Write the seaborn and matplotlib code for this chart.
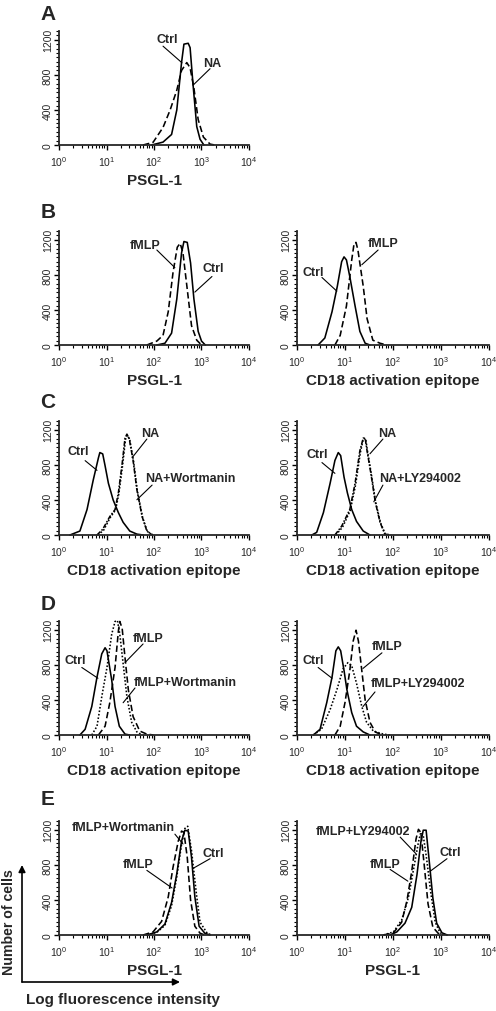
import numpy as np
import matplotlib
matplotlib.use("Agg")
import matplotlib.pyplot as plt
import seaborn as sns
from matplotlib.ticker import LogLocator, NullFormatter, MultipleLocator, FixedLocator

# ---------------- data (log10 fluorescence, number of cells) ----------------
# Panel A
A_ctrl_lx = [1.95, 2.19, 2.37, 2.48, 2.58, 2.63, 2.72, 2.76, 2.82, 2.90, 2.97, 3.05]
A_ctrl_n = [0, 33, 120, 400, 940, 1150, 1160, 1110, 700, 210, 65, 0]
A_na_lx = [1.77, 1.98, 2.19, 2.34, 2.48, 2.58, 2.69, 2.76, 2.84, 2.93, 3.04, 3.18, 3.28]
A_na_n = [0, 30, 200, 400, 625, 850, 940, 880, 650, 290, 90, 10, 0]

# Panel B left (PSGL-1)
BL_fmlp_lx = [1.85, 2.06, 2.19, 2.30, 2.40, 2.49, 2.55, 2.61, 2.70, 2.79, 2.90, 3.00]
BL_fmlp_n = [0, 45, 110, 380, 825, 1115, 1160, 1050, 635, 220, 55, 0]
BL_ctrl_lx = [2.06, 2.23, 2.37, 2.48, 2.58, 2.63, 2.70, 2.77, 2.84, 2.93, 3.00, 3.08]
BL_ctrl_n = [0, 20, 135, 525, 1050, 1180, 1170, 935, 525, 155, 45, 0]

# Panel B right (CD18)
BR_ctrl_lx = [0.44, 0.58, 0.73, 0.84, 0.93, 0.98, 1.03, 1.10, 1.21, 1.31, 1.42, 1.52]
BR_ctrl_n = [0, 80, 380, 670, 950, 1005, 970, 780, 445, 155, 20, 0]
BR_fmlp_lx = [0.79, 0.90, 1.03, 1.14, 1.19, 1.23, 1.27, 1.38, 1.46, 1.58, 1.73, 1.87]
BR_fmlp_n = [0, 110, 445, 970, 1160, 1170, 1080, 670, 300, 55, 20, 0]

# Panel C left
CL_ctrl_lx = [0.23, 0.44, 0.59, 0.72, 0.83, 0.86, 0.92, 0.97, 1.04, 1.14, 1.25, 1.35, 1.49, 1.64, 1.77]
CL_ctrl_n = [0, 45, 290, 625, 880, 940, 925, 790, 590, 400, 255, 145, 45, 10, 0]
CL_na_lx = [0.80, 0.92, 1.07, 1.18, 1.25, 1.33, 1.39, 1.43, 1.48, 1.56, 1.64, 1.75, 1.85, 1.96]
CL_na_n = [0, 65, 210, 290, 480, 815, 1105, 1150, 1095, 850, 515, 210, 45, 0]
CL_naw_lx = [0.82, 0.94, 1.08, 1.19, 1.26, 1.34, 1.40, 1.44, 1.49, 1.57, 1.65, 1.76, 1.86, 1.98]
CL_naw_n = [0, 55, 200, 285, 470, 800, 1090, 1140, 1085, 840, 500, 200, 40, 0]

# Panel C right
CR_ctrl_lx = [0.31, 0.41, 0.55, 0.69, 0.79, 0.86, 0.91, 0.98, 1.05, 1.14, 1.24, 1.38, 1.52]
CR_ctrl_n = [0, 30, 255, 590, 850, 940, 905, 660, 480, 290, 155, 45, 0]
CR_na_lx = [0.79, 0.93, 1.10, 1.21, 1.31, 1.38, 1.42, 1.46, 1.54, 1.63, 1.73, 1.83, 1.94]
CR_na_n = [0, 100, 290, 590, 960, 1105, 1105, 960, 700, 380, 145, 10, 0]
CR_naly_lx = [0.81, 0.95, 1.11, 1.22, 1.32, 1.38, 1.43, 1.47, 1.55, 1.64, 1.74, 1.84, 1.96]
CR_naly_n = [0, 90, 280, 570, 940, 1095, 1100, 950, 690, 370, 140, 10, 0]

# Panel D left
DL_ctrl_lx = [0.44, 0.55, 0.69, 0.80, 0.90, 0.97, 1.01, 1.11, 1.18, 1.27, 1.39, 1.49]
DL_ctrl_n = [0, 65, 325, 660, 925, 995, 960, 625, 325, 100, 10, 0]
DL_fw_lx = [0.69, 0.80, 0.90, 1.01, 1.11, 1.18, 1.23, 1.28, 1.35, 1.43, 1.53, 1.64, 1.75]
DL_fw_n = [0, 100, 435, 770, 1150, 1295, 1305, 1150, 815, 435, 145, 35, 0]
DL_fmlp_lx = [0.83, 0.97, 1.07, 1.18, 1.25, 1.28, 1.33, 1.39, 1.46, 1.56, 1.70, 1.85, 1.99]
DL_fmlp_n = [0, 100, 370, 770, 1185, 1295, 1215, 880, 515, 210, 45, 10, 0]

# Panel D right
DR_ctrl_lx = [0.34, 0.48, 0.62, 0.73, 0.81, 0.86, 0.91, 0.98, 1.04, 1.14, 1.24, 1.38, 1.52]
DR_ctrl_n = [0, 65, 370, 660, 960, 1005, 960, 735, 515, 255, 100, 35, 0]
DR_fly_lx = [0.34, 0.51, 0.69, 0.83, 0.96, 1.06, 1.14, 1.24, 1.35, 1.45, 1.59, 1.80, 1.94]
DR_fly_n = [0, 65, 290, 515, 755, 825, 790, 590, 325, 145, 45, 10, 0]
DR_fmlp_lx = [0.79, 0.90, 1.00, 1.10, 1.17, 1.23, 1.28, 1.35, 1.42, 1.52, 1.63, 1.77]
DR_fmlp_n = [0, 100, 370, 735, 1070, 1195, 1070, 735, 400, 145, 35, 0]

# Panel E left
EL_ctrl_lx = [1.85, 2.06, 2.23, 2.37, 2.48, 2.58, 2.65, 2.72, 2.79, 2.86, 2.95, 3.07, 3.18]
EL_ctrl_n = [0, 35, 125, 370, 700, 1070, 1195, 1185, 885, 435, 100, 20, 0]
EL_fw_lx = [1.85, 2.06, 2.23, 2.37, 2.48, 2.58, 2.65, 2.71, 2.79, 2.90, 2.97, 3.12, 3.21]
EL_fw_n = [0, 30, 110, 335, 665, 1035, 1215, 1240, 960, 435, 145, 20, 0]
EL_fmlp_lx = [1.77, 1.98, 2.16, 2.30, 2.40, 2.51, 2.58, 2.63, 2.70, 2.77, 2.86, 2.97, 3.07]
EL_fmlp_n = [0, 35, 155, 435, 770, 1070, 1185, 1170, 885, 400, 100, 20, 0]

# Panel E right
ER_ctrl_lx = [1.94, 2.08, 2.25, 2.39, 2.50, 2.58, 2.63, 2.69, 2.75, 2.83, 2.91, 3.02, 3.13]
ER_ctrl_n = [0, 35, 135, 315, 690, 1060, 1195, 1195, 870, 425, 135, 25, 0]
ER_fly_lx = [1.80, 2.01, 2.18, 2.32, 2.42, 2.53, 2.58, 2.63, 2.70, 2.79, 2.88, 2.98, 3.13]
ER_fly_n = [0, 35, 170, 425, 725, 1060, 1170, 1135, 870, 470, 145, 25, 0]
ER_fmlp_lx = [1.80, 2.01, 2.18, 2.29, 2.39, 2.48, 2.53, 2.58, 2.65, 2.73, 2.83, 2.94, 3.04]
ER_fmlp_n = [0, 25, 145, 390, 725, 1095, 1205, 1170, 800, 355, 90, 20, 0]

Y_TICKS = [0, 400, 800, 1200]
X_DECADES = [0, 1, 2, 3, 4]
PANEL_LETTERS = ["A", "B", "C", "D", "E"]
XLAB_PSGL = "PSGL-1"
XLAB_CD18 = "CD18 activation epitope"

# ---------------- styling ----------------
sns.set_style("ticks")
plt.rcParams["font.family"] = ["Liberation Sans", "DejaVu Sans"]
plt.rcParams["mathtext.default"] = "regular"

SOLID = "-"
DASH = (0, (4.0, 2.0))
DOT = (0, (1.0, 1.2))
DASHDOT = (0, (3.0, 1.0, 1.0, 1.0))

W, H = 496, 1012
fig = plt.figure(figsize=(W / 100, H / 100), dpi=100)


def add_ax(left, top, width, height):
    return fig.add_axes([left / W, 1 - (top + height) / H, width / W, height / H])


LEFT_COL = (59, 190)
RIGHT_COL = (297, 192)
ROW_TOPS = [32, 232, 422, 622, 822]
AX_H = 114

panels = [
    dict(col=LEFT_COL, row=0, xlabel=XLAB_PSGL,
         curves=[(A_ctrl_lx, A_ctrl_n, SOLID), (A_na_lx, A_na_n, DASH)],
         labels=[("Ctrl", (2.27, 1205), (2.19, 1127), (2.59, 937)),
                 ("NA", (3.22, 937), (3.18, 870), (2.82, 681))]),
    dict(col=LEFT_COL, row=1, xlabel=XLAB_PSGL,
         curves=[(BL_fmlp_lx, BL_fmlp_n, DASH), (BL_ctrl_lx, BL_ctrl_n, SOLID)],
         labels=[("fMLP", (1.81, 1138), (2.06, 1083), (2.44, 882)),
                 ("Ctrl", (3.24, 882), (3.22, 781), (2.86, 603))]),
    dict(col=RIGHT_COL, row=1, xlabel=XLAB_CD18,
         curves=[(BR_ctrl_lx, BR_ctrl_n, SOLID), (BR_fmlp_lx, BR_fmlp_n, DASH)],
         labels=[("Ctrl", (0.33, 837), (0.52, 770), (0.83, 614)),
                 ("fMLP", (1.79, 1161), (1.69, 1083), (1.35, 915))]),
    dict(col=LEFT_COL, row=2, xlabel=XLAB_CD18,
         curves=[(CL_ctrl_lx, CL_ctrl_n, SOLID), (CL_na_lx, CL_na_n, DASHDOT),
                 (CL_naw_lx, CL_naw_n, DOT)],
         labels=[("Ctrl", (0.40, 960), (0.55, 848), (0.80, 737)),
                 ("NA", (1.92, 1161), (1.85, 1094), (1.54, 882)),
                 ("NA+Wortmanin", (2.76, 647), (1.96, 569), (1.64, 402))]),
    dict(col=RIGHT_COL, row=2, xlabel=XLAB_CD18,
         curves=[(CR_ctrl_lx, CR_ctrl_n, SOLID), (CR_na_lx, CR_na_n, DASHDOT),
                 (CR_naly_lx, CR_naly_n, DOT)],
         labels=[("Ctrl", (0.42, 926), (0.52, 826), (0.79, 703)),
                 ("NA", (1.875, 1161), (1.79, 1094), (1.52, 926)),
                 ("NA+LY294002", (2.56, 647), (1.79, 569), (1.60, 379))]),
    dict(col=LEFT_COL, row=3, xlabel=XLAB_CD18,
         curves=[(DL_ctrl_lx, DL_ctrl_n, SOLID), (DL_fw_lx, DL_fw_n, DOT),
                 (DL_fmlp_lx, DL_fmlp_n, DASH)],
         labels=[("Ctrl", (0.34, 859), (0.48, 770), (0.82, 647)),
                 ("fMLP", (1.87, 1105), (1.77, 1038), (1.39, 826)),
                 ("fMLP+Wortmanin", (2.65, 603), (1.60, 536), (1.35, 368))]),
    dict(col=RIGHT_COL, row=3, xlabel=XLAB_CD18,
         curves=[(DR_ctrl_lx, DR_ctrl_n, SOLID), (DR_fly_lx, DR_fly_n, DOT),
                 (DR_fmlp_lx, DR_fmlp_n, DASH)],
         labels=[("Ctrl", (0.33, 859), (0.44, 770), (0.73, 647)),
                 ("fMLP", (1.875, 1016), (1.77, 937), (1.375, 759)),
                 ("fMLP+LY294002", (2.52, 591), (1.625, 491), (1.375, 324))]),
    dict(col=LEFT_COL, row=4, xlabel=XLAB_PSGL,
         curves=[(EL_ctrl_lx, EL_ctrl_n, SOLID), (EL_fw_lx, EL_fw_n, DOT),
                 (EL_fmlp_lx, EL_fmlp_n, DASH)],
         labels=[("fMLP+Wortmanin", (1.35, 1228), (2.44, 1150), (2.61, 1038)),
                 ("Ctrl", (3.24, 937), (3.18, 870), (2.82, 759)),
                 ("fMLP", (1.66, 815), (1.85, 737), (2.38, 536))]),
    dict(col=RIGHT_COL, row=4, xlabel=XLAB_PSGL,
         curves=[(ER_ctrl_lx, ER_ctrl_n, SOLID), (ER_fly_lx, ER_fly_n, DOT),
                 (ER_fmlp_lx, ER_fmlp_n, DASH)],
         labels=[("fMLP+LY294002", (1.375, 1183), (2.15, 1116), (2.48, 926)),
                 ("Ctrl", (3.19, 949), (3.125, 870), (2.77, 725)),
                 ("fMLP", (1.83, 815), (1.94, 748), (2.31, 614))]),
]

for p in panels:
    left, width = p["col"]
    ax = add_ax(left, ROW_TOPS[p["row"]], width, AX_H)
    ax.set_xscale("log")
    for lx, n, ls in p["curves"]:
        sns.lineplot(x=np.power(10.0, np.array(lx)), y=n, ax=ax, color="black",
                     linewidth=1.15, linestyle=ls, sort=False, estimator=None,
                     clip_on=False)
    ax.set_xlim(10.0 ** X_DECADES[0], 10.0 ** X_DECADES[-1])
    ax.set_ylim(0, 1300)
    ax.xaxis.set_major_locator(FixedLocator([10.0 ** d for d in X_DECADES]))
    ax.xaxis.set_minor_locator(LogLocator(base=10, subs=np.arange(2, 10), numticks=20))
    ax.xaxis.set_minor_formatter(NullFormatter())
    ax.set_xticklabels([r"$10^{%d}$" % d for d in X_DECADES])
    ax.yaxis.set_major_locator(FixedLocator(Y_TICKS))
    ax.yaxis.set_minor_locator(MultipleLocator(50))
    ax.set_yticklabels([str(t) for t in Y_TICKS])
    sns.despine(ax=ax)
    for s in ("left", "bottom"):
        ax.spines[s].set_linewidth(1.3)
    ax.tick_params(which="major", direction="out", length=3.5, width=1.0,
                   labelsize=7.5, color="black")
    ax.tick_params(axis="x", which="major", pad=3.0)
    ax.tick_params(axis="y", which="major", pad=1.0)
    ax.tick_params(which="minor", direction="out", length=2.2, width=0.8, color="black")
    for lab in ax.get_yticklabels():
        lab.set_rotation(90)
        lab.set_va("center")
    ax.set_xlabel(p["xlabel"], fontsize=11, fontweight="bold")
    ax.xaxis.set_label_coords(0.5, -0.245)
    ax.xaxis.label.set_va("top")
    ax.set_ylabel("")
    for text, (tx, ty), (x1, y1), (x2, y2) in p["labels"]:
        ax.text(10 ** tx, ty, text, ha="center", va="center", fontsize=9,
                fontweight="bold", clip_on=False)
        ax.annotate("", xy=(10 ** x2, y2), xytext=(10 ** x1, y1),
                    arrowprops=dict(arrowstyle="-", lw=0.8, color="black",
                                    shrinkA=0, shrinkB=0), annotation_clip=False)

# panel letters
LETTER_Y = [15, 213, 403, 605, 800]
for letter, y in zip(PANEL_LETTERS, LETTER_Y):
    fig.text(48 / W, 1 - y / H, letter, ha="center", va="center",
             fontsize=15, fontweight="bold")

# axis legend arrows (bottom-left)
fig.add_artist(matplotlib.patches.FancyArrowPatch(
    (22 / W, 1 - 983 / H), (22 / W, 1 - 866 / H), transform=fig.transFigure,
    arrowstyle="-|>", mutation_scale=10, lw=1.2, color="black", shrinkA=0, shrinkB=0))
fig.add_artist(matplotlib.patches.FancyArrowPatch(
    (22 / W, 1 - 983 / H), (180 / W, 1 - 983 / H), transform=fig.transFigure,
    arrowstyle="-|>", mutation_scale=10, lw=1.2, color="black", shrinkA=0, shrinkB=0))
fig.text(9 / W, 1 - 922 / H, "Number of cells", rotation=90, ha="center", va="center",
         fontsize=10.2, fontweight="bold")
fig.text(123 / W, 1 - 1000 / H, "Log fluorescence intensity", ha="center", va="center",
         fontsize=11, fontweight="bold")

fig.savefig("out.png", dpi=100)
